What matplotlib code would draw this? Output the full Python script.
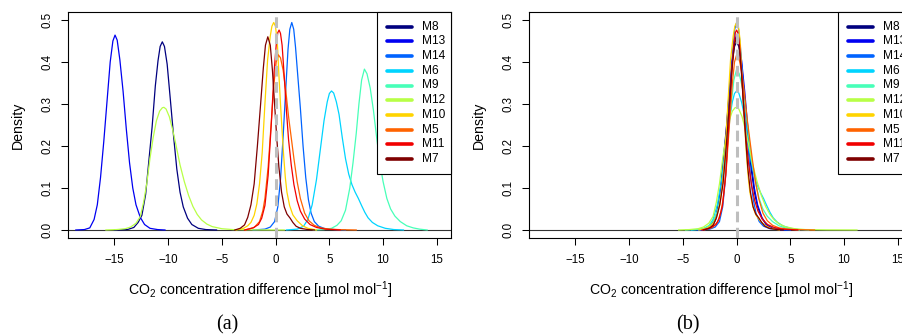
import matplotlib
matplotlib.use('Agg')
import matplotlib.pyplot as plt
from matplotlib.patches import Rectangle

plt.rcParams['font.family'] = ['Liberation Sans', 'DejaVu Sans']
plt.rcParams['mathtext.fontset'] = 'custom'
plt.rcParams['mathtext.rm'] = 'Liberation Sans'
plt.rcParams['mathtext.it'] = 'Liberation Sans:italic'

W, H = 903, 334

models = ['M8', 'M13', 'M14', 'M6', 'M9', 'M12', 'M10', 'M5', 'M11', 'M7']
colors = ['#00007F', '#0000F1', '#0063FF', '#00D4FF', '#47FFB8',
          '#B8FF47', '#FFD400', '#FF6300', '#F10000', '#7F0000']
# location of each peak, removed in panel (b)
centre = [-10.55, -14.95, 1.5, 5.2, 8.26, -10.4, -0.18, 0.25, 0.32, -0.73]

# density curves
m8_x = [-15.0, -13.8, -13.2, -12.8, -12.45, -12.1, -11.8, -11.5, -11.2, -10.95, -10.75, -10.55,
        -10.35, -10.1, -9.8, -9.5, -9.2, -8.9, -8.6, -8.2, -7.8, -7.2, -6.5, -5.5]
m8_y = [0, 0.001, 0.006, 0.018, 0.035, 0.085, 0.165, 0.245, 0.343, 0.403, 0.437, 0.448,
        0.437, 0.395, 0.31, 0.223, 0.145, 0.09, 0.055, 0.028, 0.013, 0.004, 0.001, 0]

m13_x = [-18.6, -17.8, -17.3, -16.9, -16.6, -16.3, -16.0, -15.7, -15.4, -15.15, -14.95,
         -14.75, -14.5, -14.2, -13.9, -13.6, -13.3, -13.0, -12.6, -12.2, -11.7, -11.0, -10.3]
m13_y = [0, 0.001, 0.005, 0.025, 0.06, 0.125, 0.21, 0.305, 0.4, 0.45, 0.464,
         0.452, 0.405, 0.33, 0.24, 0.16, 0.1, 0.06, 0.03, 0.013, 0.004, 0.001, 0]

m14_x = [-2.1, -1.0, -0.5, -0.1, 0.2, 0.45, 0.7, 0.95, 1.15, 1.32, 1.5, 1.68, 1.85, 2.05,
         2.3, 2.55, 2.8, 3.05, 3.3, 3.6, 4.0, 4.6, 5.5, 6.5]
m14_y = [0, 0.002, 0.007, 0.02, 0.055, 0.12, 0.225, 0.34, 0.43, 0.478, 0.494, 0.478, 0.435,
         0.37, 0.29, 0.2, 0.125, 0.072, 0.04, 0.02, 0.009, 0.003, 0.001, 0]

m6_x = [1.0, 2.0, 2.6, 3.0, 3.4, 3.8, 4.15, 4.5, 4.8, 5.0, 5.2, 5.4, 5.65, 5.9, 6.2, 6.5,
        6.8, 7.1, 7.4, 7.7, 8.0, 8.3, 8.6, 9.0, 9.5, 10.2, 11.0, 11.9]
m6_y = [0, 0.002, 0.009, 0.025, 0.06, 0.12, 0.19, 0.26, 0.305, 0.325, 0.331, 0.326, 0.305,
        0.275, 0.22, 0.17, 0.133, 0.108, 0.09, 0.075, 0.058, 0.042, 0.029, 0.018, 0.01,
        0.004, 0.001, 0]

m9_x = [3.5, 4.5, 5.2, 5.7, 6.1, 6.5, 6.9, 7.2, 7.5, 7.75, 8.0, 8.26, 8.5, 8.8, 9.1, 9.4,
        9.7, 10.0, 10.35, 10.7, 11.1, 11.6, 12.2, 12.8, 13.4, 14.1]
m9_y = [0, 0.001, 0.004, 0.011, 0.022, 0.047, 0.1, 0.16, 0.23, 0.3, 0.357, 0.383, 0.372,
        0.338, 0.285, 0.22, 0.16, 0.115, 0.075, 0.05, 0.033, 0.02, 0.01, 0.005, 0.002, 0]

m12_x = [-15.8, -14.8, -14.0, -13.5, -13.0, -12.6, -12.3, -12.0, -11.7, -11.4, -11.1, -10.8,
         -10.55, -10.4, -10.2, -9.9, -9.6, -9.3, -8.9, -8.5, -8.1, -7.7, -7.3, -6.9, -6.4,
         -5.9, -5.0, -4.0, -2.0, 0.8]
m12_y = [0, 0.001, 0.003, 0.007, 0.016, 0.032, 0.065, 0.11, 0.17, 0.22, 0.26, 0.283,
         0.291, 0.292, 0.288, 0.27, 0.24, 0.205, 0.155, 0.115, 0.082, 0.056, 0.037, 0.024,
         0.014, 0.008, 0.003, 0.001, 0.0003, 0]

m10_x = [-3.7, -3.0, -2.6, -2.3, -2.0, -1.75, -1.5, -1.25, -1.0, -0.75, -0.5, -0.35, -0.18,
         -0.02, 0.15, 0.3, 0.45, 0.6, 0.75, 0.9, 1.05, 1.3, 1.6, 2.0, 2.5, 3.0, 3.8]
m10_y = [0, 0.004, 0.01, 0.018, 0.035, 0.062, 0.11, 0.185, 0.3, 0.405, 0.462, 0.485, 0.494,
         0.485, 0.45, 0.37, 0.3, 0.235, 0.175, 0.125, 0.09, 0.058, 0.036, 0.022, 0.01,
         0.004, 0]

m5_x = [-2.8, -2.0, -1.5, -1.2, -1.0, -0.7, -0.4, -0.15, 0.05, 0.25, 0.45, 0.7, 0.95, 1.2,
        1.45, 1.7, 2.0, 2.3, 2.7, 3.1, 3.6, 4.2, 5.0, 6.0, 7.5]
m5_y = [0, 0.006, 0.02, 0.045, 0.075, 0.15, 0.26, 0.35, 0.4, 0.417, 0.41, 0.38, 0.33, 0.27,
        0.22, 0.17, 0.115, 0.075, 0.04, 0.022, 0.011, 0.005, 0.002, 0.0008, 0]

m11_x = [-2.9, -2.1, -1.6, -1.3, -1.0, -0.7, -0.4, -0.15, 0.05, 0.2, 0.32, 0.45, 0.6, 0.8,
         1.0, 1.2, 1.45, 1.7, 2.0, 2.3, 2.7, 3.2, 3.8, 4.6, 6.0]
m11_y = [0, 0.005, 0.013, 0.028, 0.058, 0.13, 0.255, 0.375, 0.44, 0.47, 0.476, 0.468, 0.44,
         0.365, 0.285, 0.215, 0.155, 0.108, 0.07, 0.045, 0.026, 0.013, 0.006, 0.002, 0]

m7_x = [-3.8, -3.3, -2.9, -2.6, -2.3, -2.0, -1.7, -1.4, -1.15, -0.95, -0.73, -0.5, -0.3,
        -0.1, 0.1, 0.3, 0.55, 0.8, 1.05, 1.35, 1.6, 1.9, 2.3, 3.0, 3.6]
m7_y = [0, 0.004, 0.012, 0.03, 0.06, 0.11, 0.2, 0.3, 0.385, 0.44, 0.46, 0.44, 0.38, 0.3,
        0.22, 0.15, 0.09, 0.055, 0.038, 0.028, 0.018, 0.009, 0.004, 0.001, 0]

curves_x = [m8_x, m13_x, m14_x, m6_x, m9_x, m12_x, m10_x, m5_x, m11_x, m7_x]
curves_y = [m8_y, m13_y, m14_y, m6_y, m9_y, m12_y, m10_y, m5_y, m11_y, m7_y]

xticks = [-15, -10, -5, 0, 5, 10, 15]
yticks = [0.0, 0.1, 0.2, 0.3, 0.4, 0.5]

fig = plt.figure(figsize=(W / 100, H / 100), dpi=100)

AX_W, AX_H, AX_TOP = 382.7, 226.3, 12.0


def panel(left, shifted, tag, tag_x):
    ax = fig.add_axes([left / W, 1 - (AX_TOP + AX_H) / H, AX_W / W, AX_H / H])
    ax.axhline(0, color='0.2', lw=0.8, zorder=1)
    for xs, ys, c, m in zip(curves_x, curves_y, colors, centre):
        x = [v - m for v in xs] if shifted else xs
        ax.plot(x, ys, color=c, lw=0.9, zorder=2)
    ax.axvline(0, color='#BEBEBE', lw=2.2, dashes=(3.5, 1.8), zorder=3)
    ax.set_xlim(-19.3, 16.32)
    ax.set_ylim(-0.0198, 0.519)
    ax.set_xticks(xticks)
    ax.set_yticks(yticks)
    ax.set_yticklabels(['%.1f' % v for v in yticks])
    for s in ax.spines.values():
        s.set_linewidth(0.8)
    ax.tick_params(direction='out', length=5.3, width=0.75, labelsize=8.3)
    ax.tick_params(axis='x', pad=6.3)
    ax.tick_params(axis='y', pad=5.6, labelrotation=90)
    for lbl in ax.get_yticklabels():
        lbl.set_va('center')

    # legend box, top right corner
    leg_left = 308.6 / AX_W
    leg_bottom = 1 - 161.5 / AX_H
    ax.add_patch(Rectangle((leg_left, leg_bottom), 1 - leg_left, 1 - leg_bottom,
                           transform=ax.transAxes, fc='white', ec='black', lw=0.8,
                           zorder=4, clip_on=False))
    for i, (m, c) in enumerate(zip(models, colors)):
        yy = 1 - 14.7 * (i + 1) / AX_H
        ax.plot([318.4 / AX_W, 343.4 / AX_W], [yy, yy], transform=ax.transAxes,
                color=c, lw=2.6, solid_capstyle='round', zorder=5, clip_on=False)
        ax.text(353.4 / AX_W, yy, m, transform=ax.transAxes, va='center', ha='left',
                fontsize=8.6, zorder=5)

    cx = left + AX_W / 2
    fig.text(cx / W, 1 - 295 / H, r'CO$_2$ concentration difference [µmol mol$^{-1}$]',
             ha='center', va='baseline', fontsize=10.2)
    fig.text((left - 50.8) / W, 1 - 125 / H, 'Density', rotation=90,
             ha='center', va='center', fontsize=10.2)
    fig.text(tag_x / W, 1 - 325 / H, tag, ha='center', va='center',
             fontsize=14.5, family='Liberation Serif')
    return ax


panel(68.3, False, '(a)', 227)
panel(529.3, True, '(b)', 687.7)

fig.savefig('out.png', dpi=100)
